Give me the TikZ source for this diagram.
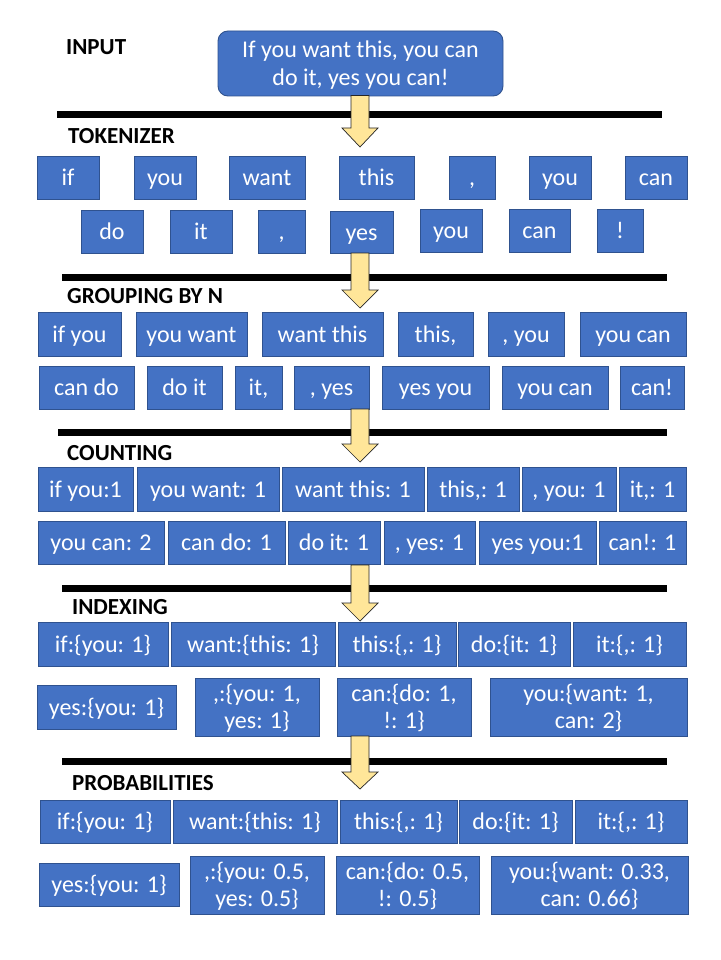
\documentclass[tikz,border=0pt]{standalone}
\usepackage{fontspec}
\setmainfont{Carlito}
\definecolor{boxblue}{HTML}{4472C4}
\definecolor{boxedge}{HTML}{2F528F}
\definecolor{arrowyellow}{HTML}{FFE699}
\definecolor{arrowedge}{HTML}{262626}
% fixed line height for text inside the boxes
\newcommand\lnstrut{\vrule width 0pt height 20pt depth 4pt}
% one-line box from corner (x1,y1) to corner (x2,y2), in pixel units
\newcommand\tbox[6]{%
  \pgfmathsetmacro\bcx{(#2+#4)/2}\pgfmathsetmacro\bcy{(#3+#5)/2}%
  \pgfmathsetmacro\bw{#4-#2}\pgfmathsetmacro\bh{#5-#3}%
  \node[blk, minimum width=\bw pt, minimum height=\bh pt] (#1) at (\bcx,\bcy) {\lnstrut#6};}
% two-line box: name, x1, y1, x2, y2, first line, second line
\newcommand\tboxii[7]{%
  \pgfmathsetmacro\bcx{(#2+#4)/2}\pgfmathsetmacro\bcy{(#3+#5)/2}%
  \pgfmathsetmacro\bw{#4-#2}\pgfmathsetmacro\bh{#5-#3}%
  \node[blk, minimum width=\bw pt, minimum height=\bh pt] (#1) at (\bcx,\bcy)
    {\lnstrut#6\\\lnstrut#7};}
% downward block arrow: name, shaft top, head start, tip
\newcommand\stagearrow[4]{%
  \draw[flow] (351,#2) -- (369,#2) -- (369,#3) -- (378,#3) -- (360,#4)
    -- (342,#3) -- (351,#3) -- cycle;
  \coordinate (#1) at (360,#4);}
\begin{document}
\begin{tikzpicture}[x=1pt,y=-1pt,
  blk/.style={draw=boxedge, fill=boxblue, line width=0.9pt, text=white,
    font=\fontsize{24}{27.5}\selectfont, inner sep=0pt, align=center},
  lbl/.style={anchor=west, font=\fontsize{23}{27}\selectfont\bfseries, inner sep=0pt},
  rule/.style={line width=7pt},
  flow/.style={fill=arrowyellow, draw=arrowedge, line width=0.7pt, line join=miter}]
\useasboundingbox[fill=white] (0,0) rectangle (720,960);

% section rules
\draw[rule] (57,115) -- (662,115);
\draw[rule] (62,277) -- (667,277);
\draw[rule] (58,432) -- (667,432);
\draw[rule] (62,588) -- (667,588);
\draw[rule] (62,761) -- (667,761);

% section titles
\node[lbl] (tInput) at (66,47) {INPUT};
\node[lbl] (tTok) at (68,136) {TOKENIZER};
\node[lbl] (tGroup) at (67,296) {GROUPING BY N};
\node[lbl] (tCount) at (67,453) {COUNTING};
\node[lbl] (tIndex) at (72,607) {INDEXING};
\node[lbl] (tProb) at (72,783) {PROBABILITIES};

% input sentence
\node[blk, rounded corners=10pt, minimum width=285pt, minimum height=65pt]
  (input) at (360.5,63.5) {\lnstrut If you want this, you can\\\lnstrut do it, yes you can!};

% tokens
\tbox{k1}{37}{156}{99}{199}{if}
\tbox{k2}{134}{156}{196}{199}{you}
\tbox{k3}{229}{156}{305}{199}{want}
\tbox{k4}{339}{156}{414}{199}{this}
\tbox{k5}{449}{156}{495}{199}{,}
\tbox{k6}{529}{156}{591}{199}{you}
\tbox{k7}{625}{156}{687}{199}{can}
\tbox{k8}{81}{210}{143}{253}{do}
\tbox{k9}{170}{210}{232}{253}{it}
\tbox{k10}{258}{210}{305}{253}{,}
\tbox{k11}{330}{211}{393}{253}{yes}
\tbox{k12}{420}{209}{482}{252}{you}
\tbox{k13}{509}{209}{570}{252}{can}
\tbox{k14}{597}{209}{643}{252}{!}

% bigrams
\tbox{g1}{38}{312}{121}{356}{if you}
\tbox{g2}{136}{312}{247}{356}{you want}
\tbox{g3}{262}{312}{383}{356}{want this}
\tbox{g4}{398}{312}{473}{356}{this,}
\tbox{g5}{488}{312}{564}{356}{, you}
\tbox{g6}{580}{312}{686}{356}{you can}
\tbox{g7}{39}{366}{134}{409}{can do}
\tbox{g8}{147}{366}{222}{409}{do it}
\tbox{g9}{235}{366}{282}{409}{it,}
\tbox{g10}{294}{366}{369}{409}{, yes}
\tbox{g11}{382}{366}{489}{409}{yes you}
\tbox{g12}{502}{366}{608}{409}{you can}
\tbox{g13}{620}{366}{684}{409}{can!}

% counts
\tbox{c1}{38}{467}{133}{511}{if you:1}
\tbox{c2}{137}{467}{279}{511}{you want: 1}
\tbox{c3}{282}{467}{424}{511}{want this: 1}
\tbox{c4}{427}{467}{519}{511}{this,: 1}
\tbox{c5}{522}{467}{616}{511}{, you: 1}
\tbox{c6}{619}{467}{686}{511}{it,: 1}
\tbox{c7}{38}{521}{164}{564}{you can: 2}
\tbox{c8}{168}{521}{285}{564}{can do: 1}
\tbox{c9}{288}{521}{380}{564}{do it: 1}
\tbox{c10}{384}{521}{475}{564}{, yes: 1}
\tbox{c11}{479}{521}{596}{564}{yes you:1}
\tbox{c12}{599}{521}{686}{564}{can!: 1}

% index
\tbox{i1}{38}{622}{168}{666}{if:\{you: 1\}}
\tbox{i2}{171}{622}{335}{666}{want:\{this: 1\}}
\tbox{i3}{338}{622}{456}{666}{this:\{,: 1\}}
\tbox{i4}{458}{622}{570}{666}{do:\{it: 1\}}
\tbox{i5}{573}{622}{686}{666}{it:\{,: 1\}}
\tbox{i6}{37}{685}{176}{729}{yes:\{you: 1\}}
\tboxii{i7}{195}{678}{319}{736}{,:\{you: 1,}{yes: 1\}}
\tboxii{i8}{337}{678}{471}{736}{can:\{do: 1,}{!: 1\}}
\tboxii{i9}{490}{678}{687}{736}{you:\{want: 1,}{can: 2\}}

% probabilities
\tbox{p1}{40}{800}{170}{843}{if:\{you: 1\}}
\tbox{p2}{173}{800}{337}{843}{want:\{this: 1\}}
\tbox{p3}{340}{800}{457}{843}{this:\{,: 1\}}
\tbox{p4}{459}{800}{572}{843}{do:\{it: 1\}}
\tbox{p5}{575}{800}{687}{843}{it:\{,: 1\}}
\tbox{p6}{39}{863}{179}{906}{yes:\{you: 1\}}
\tboxii{p7}{190}{856}{324}{914}{,:\{you: 0.5,}{yes: 0.5\}}
\tboxii{p8}{336}{856}{479}{914}{can:\{do: 0.5,}{!: 0.5\}}
\tboxii{p9}{491}{856}{688}{914}{you:\{want: 0.33,}{can: 0.66\}}

% flow arrows between stages
\stagearrow{a1}{95.5}{128}{147}
\stagearrow{a2}{253}{290}{308}
\stagearrow{a3}{409}{444}{462}
\stagearrow{a4}{565}{603}{621}
\stagearrow{a5}{736}{772}{789}
\end{tikzpicture}
\end{document}
